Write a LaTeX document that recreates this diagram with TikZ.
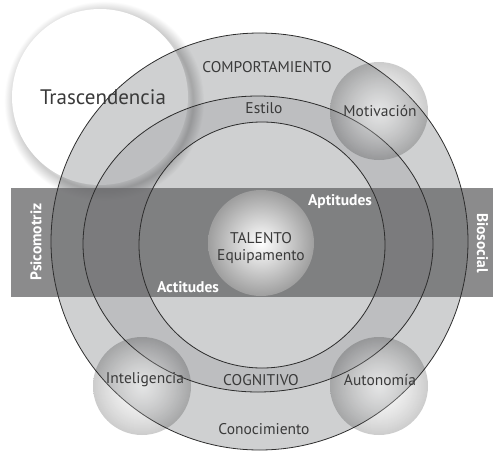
\documentclass[tikz,border=0pt]{standalone}
\usepackage{fontspec}
\setmainfont{PT Sans}
\usetikzlibrary{fadings}
\definecolor{ringgray}{RGB}{207,208,209}
\definecolor{bandgray}{RGB}{189,190,192}
\definecolor{stripcol}{RGB}{104,104,106}
\definecolor{linecol}{RGB}{45,45,45}
\definecolor{txtcol}{RGB}{58,58,58}
\pgfdeclareradialshading{trshadow}{\pgfpoint{0bp}{0bp}}{color(0bp)=(white); color(20bp)=(white); color(22.2bp)=(black!20); color(25bp)=(white); color(50bp)=(white)}
\tikzfading[name=glowfade, inner color=transparent!0, outer color=transparent!100]
\begin{document}
\begin{tikzpicture}[x=1pt,y=-1pt,
  ringline/.style={draw=linecol, line width=0.8pt},
  lbl/.style={font=\fontsize{15.5}{18}\selectfont, text=txtcol, inner sep=0pt},
  wlbl/.style={font=\bfseries\fontsize{15.5}{18}\selectfont, text=white, inner sep=0pt},
  blob/.style={circle, inner sep=0pt, minimum size=98pt, shade, inner color=white, outer color=black!20},
]
\useasboundingbox (0,0) rectangle (494,452);
% Trascendencia disk with soft shadow
\begin{scope}[blend mode=multiply]
  \path[shading=trshadow] (104,101) circle[radius=100pt];
\end{scope}
\node[circle, inner sep=0pt, minimum size=176pt, fill=white] (tras) at (100,97) {};
% ring fills
\begin{scope}[blend mode=multiply]
  \fill[ringgray, even odd rule] (259.5,241.5) circle[radius=208.5pt] (258,244) ellipse[x radius=175pt, y radius=148pt];
  \fill[bandgray, even odd rule] (258,244) ellipse[x radius=175pt, y radius=148pt] (262,245) circle[radius=123pt];
  \fill[ringgray] (262,245) circle[radius=123pt];
\end{scope}
% horizontal strip
\fill[stripcol, fill opacity=0.77] (11,188) rectangle (493,297);
% outlines
\draw[ringline] (259.5,241.5) circle[radius=208.5pt];
\draw[ringline] (258,244) ellipse[x radius=175pt, y radius=148pt];
\draw[ringline] (262,245) circle[radius=123pt];
% blobs
\begin{scope}[blend mode=multiply]
  \node[blob] (motiv) at (379,111) {};
  \node[blob] (intel) at (142,386) {};
  \node[blob] (auton) at (379,386) {};
\end{scope}
\fill[white, fill opacity=0.45, path fading=glowfade] (motiv.center) circle[radius=49pt];
\fill[white, fill opacity=0.45, path fading=glowfade] (intel.center) circle[radius=49pt];
\fill[white, fill opacity=0.45, path fading=glowfade] (auton.center) circle[radius=49pt];
% talento
\node[circle, inner sep=0pt, minimum size=106pt, shade, inner color=white, outer color=black!38] (talento) at (261,243) {};
% labels
\node[lbl, font=\fontsize{21}{24}\selectfont] (ttras) at (103,97) {Trascendencia};
\node[lbl] (tcomp) at (267,67) {COMPORTAMIENTO};
\node[lbl] (testilo) at (264,108) {Estilo};
\node[lbl] (tmotiv) at (380,111) {Motivación};
\node[wlbl] (tapt) at (340,202) {Aptitudes};
\node[wlbl] (tact) at (188,287) {Actitudes};
\node[lbl] (ttal) at (261,238) {TALENTO};
\node[lbl] (tequ) at (261,257) {Equipamento};
\node[wlbl, rotate=90] (tpsi) at (36,242) {Psicomotriz};
\node[wlbl, rotate=-90] (tbio) at (482.5,243) {Biosocial};
\node[lbl] (tintel) at (145,380) {Inteligencia};
\node[lbl] (tcog) at (261,380) {COGNITIVO};
\node[lbl] (tauton) at (380,380) {Autonomía};
\node[lbl] (tcon) at (264,429) {Conocimiento};
\end{tikzpicture}
\end{document}
